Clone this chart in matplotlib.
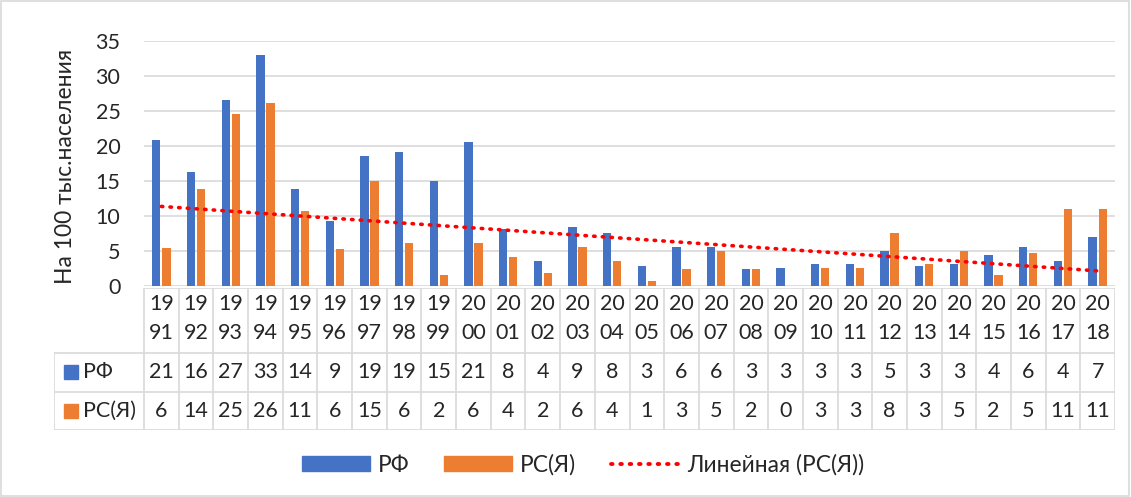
import numpy as np
import matplotlib
matplotlib.use("Agg")
import matplotlib.pyplot as plt
from matplotlib.patches import Patch, Rectangle
from matplotlib.lines import Line2D

years = list(range(1991, 2019))
# bar heights
rf = [20.8, 16.2, 26.6, 33.0, 13.8, 9.3, 18.5, 19.1, 15.0, 20.5, 8.1, 3.5, 8.4, 7.5,
      2.9, 5.5, 5.5, 2.4, 2.6, 3.2, 3.2, 5.0, 2.9, 3.2, 4.4, 5.5, 3.5, 7.0]
rs = [5.4, 13.8, 24.6, 26.1, 10.7, 5.3, 15.0, 6.1, 1.5, 6.1, 4.1, 1.8, 5.5, 3.5,
      0.7, 2.4, 5.0, 2.4, 0.0, 2.6, 2.6, 7.6, 3.2, 5.0, 1.5, 4.7, 11.0, 11.0]
# numbers printed in the data table
rf_table = [21, 16, 27, 33, 14, 9, 19, 19, 15, 21, 8, 4, 9, 8, 3, 6, 6, 3, 3, 3, 3, 5, 3, 3, 4, 6, 4, 7]
rs_table = [6, 14, 25, 26, 11, 6, 15, 6, 2, 6, 4, 2, 6, 4, 1, 3, 5, 2, 0, 3, 3, 8, 3, 5, 2, 5, 11, 11]
series_names = ["РФ", "РС(Я)"]
trend_name = "Линейная (РС(Я))"
ylabel = "На 100 тыс.населения"

blue = "#4472C4"
orange = "#ED7D31"
grid_c = "#D9D9D9"
txt_c = "#262626"
fs = 15.5

plt.rcParams['font.family'] = ['Lato', 'DejaVu Sans']

W, H = 1131, 497
fig = plt.figure(figsize=(W / 100, H / 100), dpi=100)

x = np.arange(len(years))
ax = fig.add_axes([144 / W, 1 - 286 / H, (1115 - 144) / W, (286 - 40.7) / H])
ax.bar(x - 0.145, rf, width=0.24, color=blue, label=series_names[0])
ax.bar(x + 0.145, rs, width=0.24, color=orange, label=series_names[1])

k, b = np.polyfit(x, rs, 1)
ax.plot(x, k * x + b, color="#FF0000", lw=2.6, ls=(0, (0.4, 2.0)),
        dash_capstyle="round", zorder=5)

ax.set_xlim(-0.5, 27.5)
ax.set_ylim(0, 35)
ax.set_yticks(range(0, 36, 5))
ax.set_xticks([])
ax.yaxis.grid(True, color=grid_c, lw=1.2)
ax.set_axisbelow(True)
for s in ax.spines.values():
    s.set_visible(False)
ax.tick_params(axis="y", length=0, pad=17, labelsize=fs, labelcolor=txt_c)
fig.text(65 / W, 1 - 166 / H, ylabel, rotation=90, ha="center", va="center",
         fontsize=16.5, color=txt_c)

# data table under the plot
w = (1115 - 144) / 28
xmin = -0.5 - (144 - 54) / w
tax = fig.add_axes([54 / W, 1 - 430 / H, (1115 - 54) / W, (430 - 288) / H])
tax.set_xlim(xmin, 27.5)
tax.set_ylim(430, 288)
tax.axis("off")
tax.plot([-0.5, 27.5], [288, 288], color=grid_c, lw=1.2)
for yy in [353, 392, 430]:
    tax.plot([xmin, 27.5], [yy, yy], color=grid_c, lw=1.2)
for i in range(29):
    tax.plot([i - 0.5, i - 0.5], [288, 430], color=grid_c, lw=1.2)
tax.plot([xmin, xmin], [353, 430], color=grid_c, lw=1.2)

for i, yr in enumerate(years):
    s = str(yr)
    tax.text(i, 304, s[:2], ha="center", va="center", fontsize=fs, color=txt_c)
    tax.text(i, 333, s[2:], ha="center", va="center", fontsize=fs, color=txt_c)
    tax.text(i, 372, str(rf_table[i]), ha="center", va="center", fontsize=fs, color=txt_c)
    tax.text(i, 411, str(rs_table[i]), ha="center", va="center", fontsize=fs, color=txt_c)

for yy, col, name in [(372, blue, series_names[0]), (411, orange, series_names[1])]:
    tax.add_patch(Rectangle((xmin + 10 / w, yy - 7), 14 / w, 14, color=col))
    tax.text(xmin + 29 / w, yy, name, ha="left", va="center", fontsize=fs, color=txt_c)

handles = [Patch(color=blue), Patch(color=orange),
           Line2D([0], [0], color="#FF0000", lw=2.8, ls=(0, (0.4, 2.0)), dash_capstyle="round")]
fig.legend(handles, series_names + [trend_name], loc="center",
           bbox_to_anchor=(583 / W, 1 - 465 / H), ncol=3, frameon=False,
           fontsize=16.4, handlelength=3.0, handleheight=0.6, columnspacing=1.5,
           handletextpad=0.35, labelcolor=txt_c)

fig.add_artist(Rectangle((0.001, 0.002), 0.997, 0.995, transform=fig.transFigure,
                         fill=False, edgecolor=grid_c, lw=1.2))

fig.savefig("out.png", dpi=100, facecolor="white")
